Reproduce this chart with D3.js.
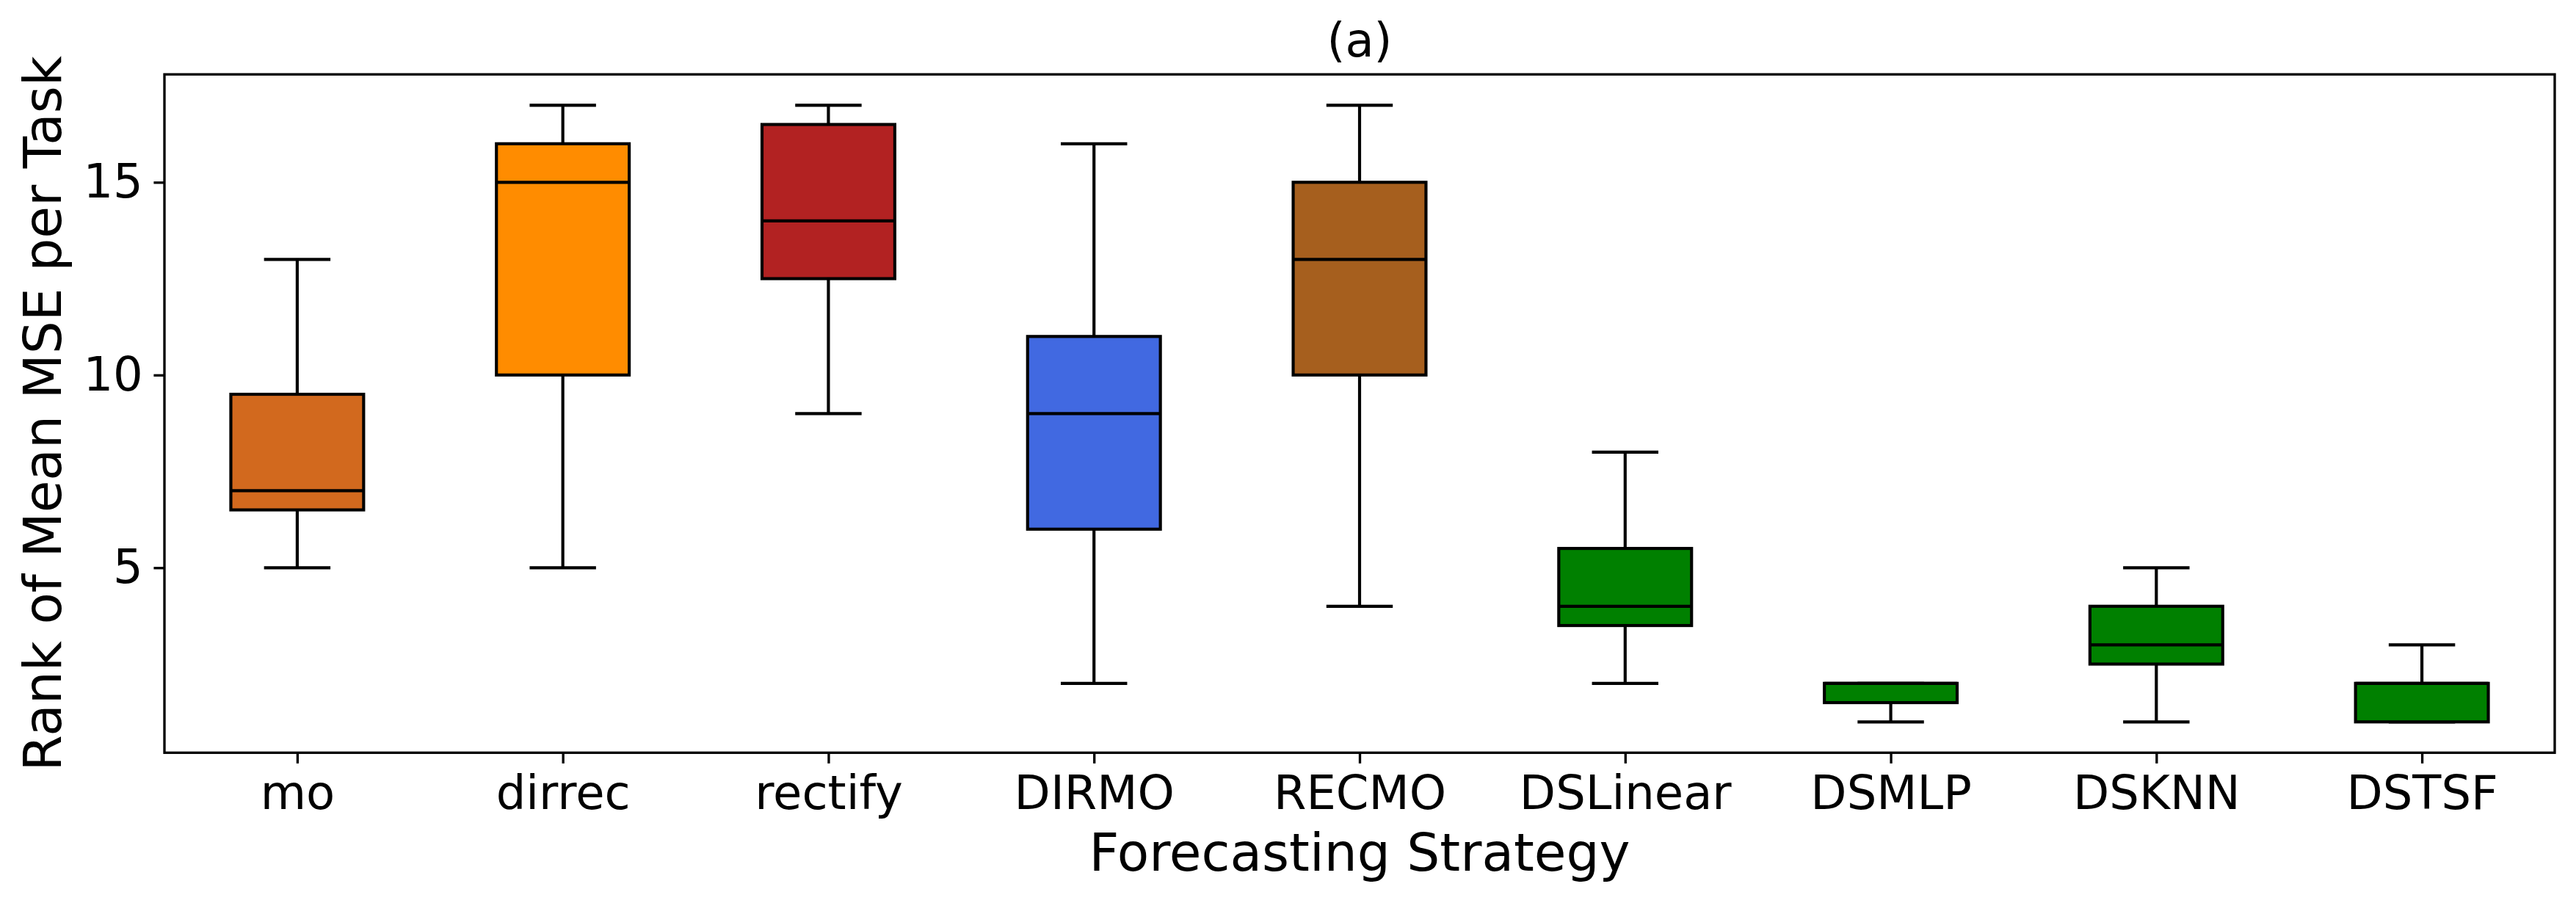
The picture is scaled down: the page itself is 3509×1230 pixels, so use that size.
<!DOCTYPE html>
<html>
<head>
<meta charset="utf-8">
<script src="https://cdn.jsdelivr.net/npm/d3@7"></script>
<style>
  html, body { margin: 0; padding: 0; background: #fff; }
  svg { display: block; }
  text { font-family: "DejaVu Sans", sans-serif; fill: #000; }
</style>
</head>
<body>
<svg id="chart" width="3509" height="1230"></svg>
<script>
// ---- data ----
const categories = ["mo", "dirrec", "rectify", "DIRMO", "RECMO", "DSLinear", "DSMLP", "DSKNN", "DSTSF"];
const whiskerLow  = [5, 5, 9, 2, 4, 2, 1, 1, 1];
const q1          = [6.5, 10, 12.5, 6, 10, 3.5, 1.5, 2.5, 1];
const medians     = [7, 15, 14, 9, 13, 4, 2, 3, 2];
const q3          = [9.5, 16, 16.5, 11, 15, 5.5, 2, 4, 2];
const whiskerHigh = [13, 17, 17, 16, 17, 8, 2, 5, 3];
const boxColors   = ["#D2691E", "#FF8C00", "#B22222", "#4169E1", "#A65F1E", "#008000", "#008000", "#008000", "#008000"];
const yTicks      = [5, 10, 15];
const titleText   = "(a)";
const xLabelText  = "Forecasting Strategy";
const yLabelText  = "Rank of Mean MSE per Task";

(function () {
// ---- layout ----
const W = 3509, H = 1230;
const mLeft = 224, mRight = 3480, mTop = 101.3, mBottom = 1025.3;
const lw = 4.17;         // 1pt at 300dpi
const spineW = 3.33;     // 0.8pt
const tickLen = 14.6;
const tickFont = 64;
const labelFont = 71;

const svg = d3.select("#chart");
svg.append("rect").attr("width", W).attr("height", H).attr("fill", "#fff");

const data = categories.map((c, i) => ({
  name: c, pos: i + 1,
  lo: whiskerLow[i], q1: q1[i], med: medians[i], q3: q3[i], hi: whiskerHigh[i],
  color: boxColors[i]
}));

const x = d3.scaleLinear().domain([0.5, categories.length + 0.5]).range([mLeft, mRight]);
const y = d3.scaleLinear().domain([0.2, 17.8]).range([mBottom, mTop]);

const boxW = 0.5, capW = 0.25;

const g = svg.append("g");

// whiskers and caps
data.forEach(d => {
  g.append("line")
    .attr("x1", x(d.pos)).attr("x2", x(d.pos))
    .attr("y1", y(d.lo)).attr("y2", y(d.q1))
    .attr("stroke", "#000").attr("stroke-width", lw);
  g.append("line")
    .attr("x1", x(d.pos)).attr("x2", x(d.pos))
    .attr("y1", y(d.q3)).attr("y2", y(d.hi))
    .attr("stroke", "#000").attr("stroke-width", lw);
  [d.lo, d.hi].forEach(v => {
    g.append("line")
      .attr("x1", x(d.pos - capW / 2)).attr("x2", x(d.pos + capW / 2))
      .attr("y1", y(v)).attr("y2", y(v))
      .attr("stroke", "#000").attr("stroke-width", lw);
  });
});

// boxes
g.selectAll("rect.box").data(data).join("rect")
  .attr("class", "box")
  .attr("x", d => x(d.pos - boxW / 2))
  .attr("width", d => x(d.pos + boxW / 2) - x(d.pos - boxW / 2))
  .attr("y", d => y(d.q3))
  .attr("height", d => y(d.q1) - y(d.q3))
  .attr("fill", d => d.color)
  .attr("stroke", "#000")
  .attr("stroke-width", lw);

// medians
g.selectAll("line.median").data(data).join("line")
  .attr("class", "median")
  .attr("x1", d => x(d.pos - boxW / 2)).attr("x2", d => x(d.pos + boxW / 2))
  .attr("y1", d => y(d.med)).attr("y2", d => y(d.med))
  .attr("stroke", "#000").attr("stroke-width", lw);

// axes frame
svg.append("rect")
  .attr("x", mLeft).attr("y", mTop)
  .attr("width", mRight - mLeft).attr("height", mBottom - mTop)
  .attr("fill", "none").attr("stroke", "#000").attr("stroke-width", spineW);

// y axis
const yAxis = d3.axisLeft(y).tickValues(yTicks).tickSize(tickLen).tickPadding(14.6).tickFormat(d3.format("d"));
const yg = svg.append("g").attr("transform", `translate(${mLeft},0)`).call(yAxis);
yg.select(".domain").remove();
yg.selectAll(".tick line").attr("stroke", "#000").attr("stroke-width", spineW);
yg.selectAll(".tick text").attr("font-size", tickFont).attr("font-family", "DejaVu Sans").attr("fill", "#000");

// x axis
const xAxis = d3.axisBottom(x).tickValues(data.map(d => d.pos)).tickSize(tickLen).tickPadding(14.6)
  .tickFormat((d, i) => categories[i]);
const xg = svg.append("g").attr("transform", `translate(0,${mBottom})`).call(xAxis);
xg.select(".domain").remove();
xg.selectAll(".tick line").attr("stroke", "#000").attr("stroke-width", spineW);
xg.selectAll(".tick text").attr("font-size", tickFont).attr("font-family", "DejaVu Sans").attr("fill", "#000")
  .attr("dy", 47.5);

// title
svg.append("text")
  .attr("x", (mLeft + mRight) / 2).attr("y", 77)
  .attr("text-anchor", "middle").attr("font-size", tickFont)
  .text(titleText);

// x label
svg.append("text")
  .attr("x", (mLeft + mRight) / 2).attr("y", 1186)
  .attr("text-anchor", "middle").attr("font-size", labelFont)
  .text(xLabelText);

// y label
svg.append("text")
  .attr("transform", `translate(83,${(mTop + mBottom) / 2}) rotate(-90)`)
  .attr("text-anchor", "middle").attr("font-size", labelFont)
  .text(yLabelText);
})();
</script>
</body>
</html>
